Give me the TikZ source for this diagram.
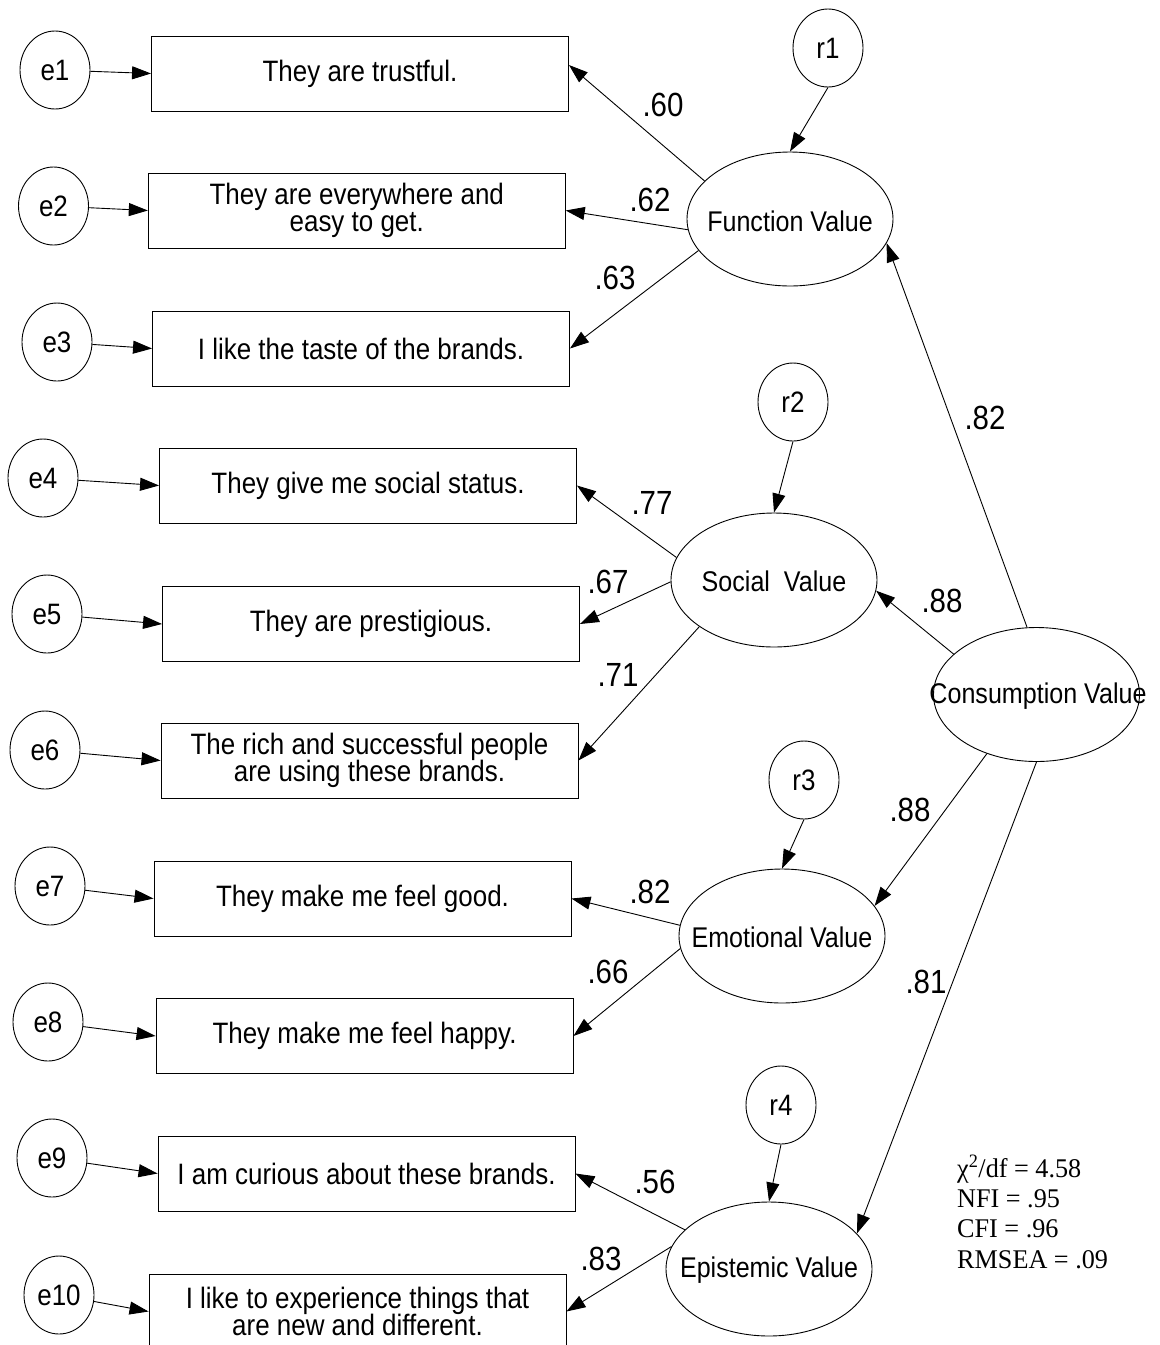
\documentclass[tikz,border=0pt]{standalone}
\usepackage{fontspec}
\setmainfont[FakeStretch=0.88]{Liberation Sans}
\newfontfamily\statfont[FakeStretch=0.97]{Liberation Serif}
\usetikzlibrary{arrows.meta,shapes.geometric}

\begin{document}
\begin{tikzpicture}[x=1pt,y=-1pt,
  every node/.style={inner sep=0pt},
  item/.style={draw, line width=0.9pt, rectangle, minimum width=417pt,
    minimum height=75pt, align=center, font=\fontsize{29.5}{27.5}\selectfont},
  err/.style={draw, line width=0.9pt, ellipse, minimum width=70pt,
    minimum height=78pt, font=\fontsize{29.5}{30}\selectfont},
  latent/.style={draw, line width=0.9pt, ellipse, minimum width=206pt,
    minimum height=134pt},
  lattext/.style={font=\fontsize{28.5}{30}\selectfont},
  coef/.style={font=\fontsize{33.5}{34}\selectfont},
  fitline/.style={anchor=base west, font=\statfont\fontsize{27}{30}\selectfont},
  link/.style={line width=0.9pt, -{Triangle[length=19pt,width=13pt]}},
]
\useasboundingbox (0,0) rectangle (1160,1345);
\clip (0,0) rectangle (1160,1345);

% observed indicators
\node[item] (b1)  at (360,73.5)   {They are trustful.};
\node[item] (b2)  at (356.75,210.5) {They are everywhere and\\easy to get.};
\node[item] (b3)  at (361,348.5)  {I like the taste of the brands.};
\node[item] (b4)  at (368,485.5)  {They give me social status.};
\node[item] (b5)  at (371,624)    {They are prestigious.};
\node[item] (b6)  at (369.5,760.5) {The rich and successful people\\are using these brands.};
\node[item] (b7)  at (362.5,898.5) {They make me feel good.};
\node[item] (b8)  at (364.5,1036) {They make me feel happy.};
\node[item] (b9)  at (366.5,1173.5) {I am curious about these brands.};
\node[item] (b10) at (357.5,1311.5) {I like to experience things that\\are new and different.};

% measurement errors
\node[err] (e1)  at (55,70)    {e1};
\node[err] (e2)  at (53.5,206) {e2};
\node[err] (e3)  at (57,342)   {e3};
\node[err] (e4)  at (43,478)   {e4};
\node[err] (e5)  at (47,614)   {e5};
\node[err] (e6)  at (45,750)   {e6};
\node[err] (e7)  at (50,886)   {e7};
\node[err] (e8)  at (48,1022)  {e8};
\node[err] (e9)  at (52,1158)  {e9};
\node[err] (e10) at (59,1295)  {e10};

% residuals of the first-order factors
\node[err] (r1) at (828,48)   {r1};
\node[err] (r2) at (793,402)  {r2};
\node[err] (r3) at (804,780)  {r3};
\node[err] (r4) at (781,1105) {r4};

% latent factors
\node[latent] (fv)  at (790,219)     {};
\node[latent] (sv)  at (774,580)     {};
\node[latent] (ev)  at (782,936)     {};
\node[latent] (epv) at (769,1269)    {};
\node[latent] (cv)  at (1036.5,694.5) {};
\node[lattext] (fvt)  at (790,221)  {Function Value};
\node[lattext] (svt)  at (774,581)  {Social\ \ Value};
\node[lattext] (evt)  at (782,937)  {Emotional Value};
\node[lattext] (epvt) at (769,1270) {Epistemic Value};
\node[lattext] (cvt)  at (1038,696) {Consumption Value};

% error paths
\foreach \i in {1,...,10} \draw[link] (e\i) -- (b\i.west);

% residual paths
\draw[link] (r1.south) -- (fv.north);
\draw[link] (r2.south) -- (sv.north);
\draw[link] (r3.south) -- (ev.north);
\draw[link] (r4.south) -- (epv.north);

% loadings
\draw[link] (fv.156.8) -- ([yshift=8.5pt]b1.east);
\draw[link] (fv.186)   -- (b2.east);
\draw[link] (fv.199)   -- (b3.east);
\draw[link] (sv.167.5) -- (b4.east);
\draw[link] (sv.181)   -- (b5.east);
\draw[link] (sv.212)   -- (b6.east);
\draw[link] (ev.174)   -- (b7.east);
\draw[link] (ev.187)   -- (b8.east);
\draw[link] (epv.155)  -- (b9.east);
\draw[link] (epv.167)  -- (b10.east);

% second-order paths
\draw[link] (cv.98)    -- (fv.-14);
\draw[link] (cv.154.8) -- (sv.-6.5);
\draw[link] (cv.230)   -- (ev.18.6);
\draw[link] (cv.south) -- (epv.22);

% standardized coefficients
\node[coef] (c1)  at (663,105)  {.60};
\node[coef] (c2)  at (650,200)  {.62};
\node[coef] (c3)  at (615,278)  {.63};
\node[coef] (c4)  at (652,503)  {.77};
\node[coef] (c5)  at (608,582)  {.67};
\node[coef] (c6)  at (618,675)  {.71};
\node[coef] (c7)  at (650,892)  {.82};
\node[coef] (c8)  at (608,972)  {.66};
\node[coef] (c9)  at (655,1182) {.56};
\node[coef] (c10) at (601,1259) {.83};
\node[coef] (g1)  at (985,418)  {.82};
\node[coef] (g2)  at (942,601)  {.88};
\node[coef] (g3)  at (910,810)  {.88};
\node[coef] (g4)  at (926,982)  {.81};

% fit indices
\node[fitline] (fit1) at (957,1177) {χ\textsuperscript{2}/df = 4.58};
\node[fitline] (fit2) at (957,1207) {NFI = .95};
\node[fitline] (fit3) at (957,1237) {CFI = .96};
\node[fitline] (fit4) at (957,1268) {RMSEA = .09};
\end{tikzpicture}
\end{document}
